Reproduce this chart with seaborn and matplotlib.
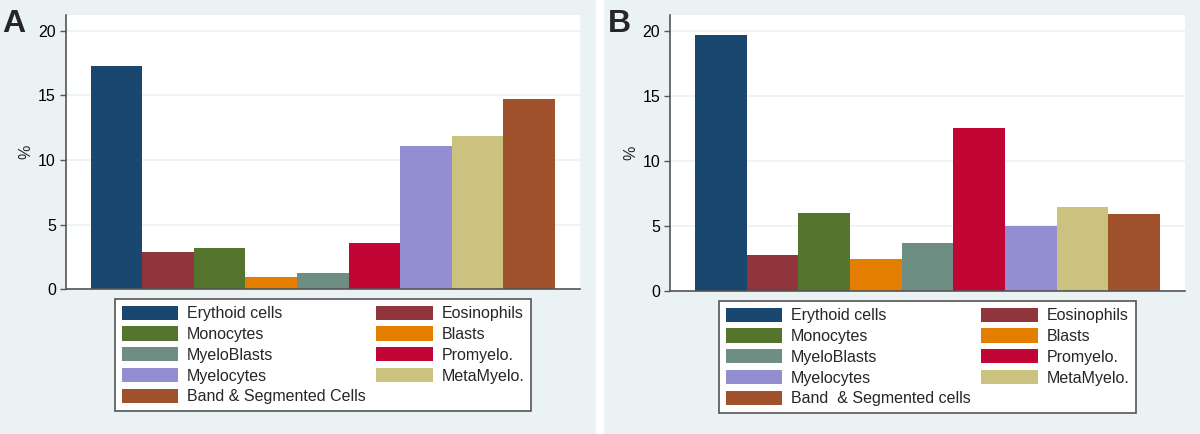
import matplotlib
matplotlib.use("Agg")
import matplotlib.pyplot as plt
from matplotlib.patches import Patch, Rectangle
import seaborn as sns

# Cell types (bar order) and values in %
cells = ["Erythoid cells", "Eosinophils", "Monocytes", "Blasts", "MyeloBlasts",
         "Promyelo.", "Myelocytes", "MetaMyelo.", "Band & Segmented Cells"]
cells_b = cells[:-1] + ["Band  & Segmented cells"]
pct_a = [17.27, 2.88, 3.22, 0.93, 1.29, 3.55, 11.05, 11.84, 14.68]
pct_b = [19.64, 2.79, 5.97, 2.46, 3.69, 12.49, 5.00, 6.49, 5.90]

# Stata s2color scheme
colors = ["#1a476f", "#90353b", "#55752f", "#e37e00", "#6e8e84",
          "#c10534", "#938dd2", "#cac27e", "#a0522d"]
bg = "#eaf2f3"
axis_col = "#555555"

sns.set_style("white")
plt.rcParams["font.family"] = ["Liberation Sans", "DejaVu Sans"]

W, H = 1200, 434
fig = plt.figure(figsize=(12, 4.34), dpi=100, facecolor="white")

# panel backgrounds
fig.patches.append(Rectangle((0, 0), 596 / W, 1, transform=fig.transFigure,
                             facecolor=bg, edgecolor="none", zorder=-10))
fig.patches.append(Rectangle((604 / W, 0), 596 / W, 1, transform=fig.transFigure,
                             facecolor=bg, edgecolor="none", zorder=-10))


def panel(left, right, top, bottom, labels, values, tag, tag_x, leg_box):
    ax = fig.add_axes([left / W, 1 - bottom / H, (right - left) / W, (bottom - top) / H])
    ax.set_facecolor("white")
    sns.barplot(x=labels, y=values, hue=labels, palette=colors, width=1,
                dodge=False, legend=False, saturation=1, linewidth=0, ax=ax)
    ax.set_xlim(-0.985, 8.985)
    ax.set_ylim(0, 21.2)
    ax.set_xticks([])
    ax.set_xlabel("")
    ax.set_yticks([0, 5, 10, 15, 20])
    ax.set_yticklabels(["0", "5", "10", "15", "20"])
    ax.tick_params(axis="y", left=True, length=4, width=1, color=axis_col,
                   pad=3, labelsize=11.5, labelcolor="black")
    ax.yaxis.grid(True, color=bg, linewidth=1.2)
    ax.set_axisbelow(True)
    for s in ["top", "right"]:
        ax.spines[s].set_visible(False)
    for s in ["left", "bottom"]:
        ax.spines[s].set_color(axis_col)
        ax.spines[s].set_linewidth(1.2)
    ax.set_ylabel("%", fontsize=11.5)
    ax.yaxis.set_label_coords(-0.062, 0.5)

    # legend: row-wise order in two columns
    handles = [Patch(facecolor=c, edgecolor="none") for c in colors]
    order = [0, 2, 4, 6, 8, 1, 3, 5, 7]
    lx0, ly0, lx1, ly1 = leg_box
    leg = fig.legend([handles[i] for i in order], [labels[i] for i in order],
                     ncol=2, loc="upper left", mode="expand",
                     bbox_to_anchor=(lx0 / W, 1 - ly1 / H, (lx1 - lx0) / W, (ly1 - ly0) / H),
                     fontsize=11.5, frameon=True, fancybox=False, framealpha=1,
                     edgecolor=axis_col, handlelength=3.55, handleheight=1.0,
                     handletextpad=0.55, labelspacing=0.32, borderpad=0.42,
                     borderaxespad=0)
    leg.get_frame().set_linewidth(1.2)

    fig.text(tag_x / W, 1 - 32 / H, tag, fontsize=23, fontweight="bold", va="baseline")
    return ax


panel(65.7, 580, 15, 289.3, cells, pct_a, "A", 2, (115, 299, 531, 411))
panel(670, 1185, 15, 291, cells_b, pct_b, "B", 608, (719, 301, 1136, 413))

fig.savefig("out.png", dpi=100, facecolor="white")
